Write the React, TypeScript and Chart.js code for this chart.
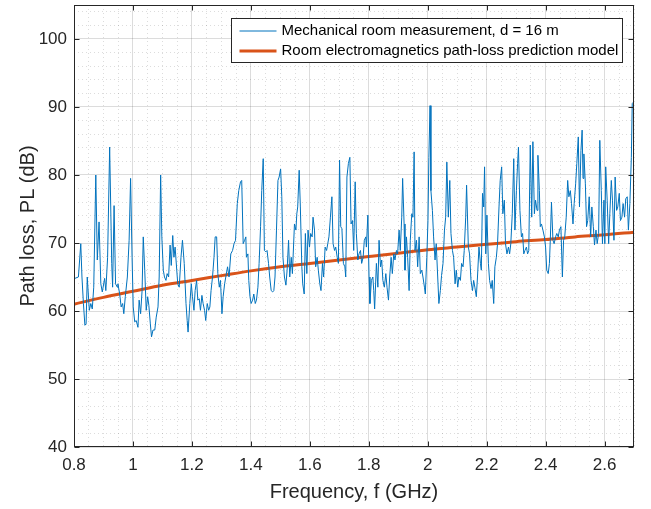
import React, { useEffect, useRef } from 'react';
import { Chart, registerables } from 'chart.js';

Chart.register(...registerables);

const measFreq = [
  0.803, 0.815, 0.823, 0.827, 0.832, 0.837, 0.841, 0.845, 0.852, 0.857, 0.862, 0.867, 0.874, 0.879, 0.885, 0.891, 0.896, 0.904, 0.908, 0.914,
  0.921, 0.928, 0.931, 0.936, 0.941, 0.947, 0.949, 0.955, 0.960, 0.965, 0.969, 0.974, 0.981, 0.987, 0.992, 0.997, 1.001, 1.006, 1.011, 1.017,
  1.021, 1.026, 1.031, 1.035, 1.040, 1.045, 1.050, 1.054, 1.059, 1.063, 1.068, 1.074, 1.079, 1.085, 1.089, 1.094, 1.098, 1.103, 1.107, 1.112,
  1.116, 1.121, 1.126, 1.130, 1.135, 1.139, 1.143, 1.152, 1.157, 1.163, 1.168, 1.174, 1.180, 1.184, 1.187, 1.193, 1.198, 1.202, 1.207, 1.211,
  1.216, 1.220, 1.225, 1.229, 1.234, 1.238, 1.243, 1.247, 1.252, 1.257, 1.261, 1.265, 1.270, 1.275, 1.279, 1.284, 1.288, 1.293, 1.297, 1.302,
  1.306, 1.311, 1.315, 1.321, 1.326, 1.332, 1.338, 1.343, 1.348, 1.354, 1.359, 1.365, 1.369, 1.374, 1.379, 1.383, 1.385, 1.390, 1.393, 1.397,
  1.401, 1.406, 1.410, 1.415, 1.419, 1.424, 1.428, 1.433, 1.437, 1.442, 1.446, 1.451, 1.455, 1.460, 1.464, 1.469, 1.474, 1.478, 1.482, 1.487,
  1.492, 1.496, 1.501, 1.505, 1.509, 1.514, 1.519, 1.523, 1.528, 1.532, 1.537, 1.541, 1.548, 1.553, 1.556, 1.559, 1.564, 1.568, 1.573, 1.576,
  1.581, 1.585, 1.590, 1.594, 1.599, 1.603, 1.608, 1.611, 1.616, 1.620, 1.625, 1.629, 1.634, 1.638, 1.643, 1.647, 1.652, 1.657, 1.661, 1.665,
  1.670, 1.675, 1.679, 1.684, 1.688, 1.693, 1.697, 1.701, 1.705, 1.709, 1.714, 1.719, 1.722, 1.726, 1.731, 1.736, 1.740, 1.745, 1.749, 1.754,
  1.758, 1.763, 1.767, 1.772, 1.776, 1.781, 1.785, 1.790, 1.792, 1.797, 1.801, 1.804, 1.809, 1.814, 1.817, 1.820, 1.826, 1.831, 1.835, 1.840,
  1.844, 1.848, 1.853, 1.858, 1.862, 1.867, 1.871, 1.876, 1.880, 1.885, 1.889, 1.894, 1.898, 1.903, 1.907, 1.912, 1.915, 1.920, 1.923, 1.928,
  1.932, 1.937, 1.941, 1.946, 1.950, 1.954, 1.957, 1.962, 1.966, 1.971, 1.975, 1.980, 1.984, 1.989, 1.992, 1.997, 2.001, 2.004, 2.008, 2.011,
  2.016, 2.020, 2.025, 2.029, 2.034, 2.038, 2.043, 2.047, 2.052, 2.057, 2.061, 2.065, 2.070, 2.075, 2.079, 2.084, 2.088, 2.093, 2.097, 2.102,
  2.106, 2.111, 2.115, 2.120, 2.124, 2.129, 2.132, 2.138, 2.142, 2.147, 2.152, 2.156, 2.160, 2.165, 2.169, 2.174, 2.179, 2.182, 2.186, 2.190,
  2.193, 2.197, 2.201, 2.206, 2.210, 2.215, 2.219, 2.224, 2.228, 2.233, 2.237, 2.242, 2.246, 2.251, 2.255, 2.260, 2.264, 2.269, 2.274, 2.278,
  2.282, 2.287, 2.292, 2.296, 2.301, 2.305, 2.308, 2.313, 2.318, 2.322, 2.326, 2.330, 2.335, 2.339, 2.343, 2.348, 2.353, 2.357, 2.362, 2.366,
  2.371, 2.374, 2.379, 2.382, 2.386, 2.391, 2.396, 2.400, 2.404, 2.409, 2.413, 2.416, 2.420, 2.425, 2.429, 2.434, 2.438, 2.443, 2.447, 2.452,
  2.457, 2.461, 2.465, 2.470, 2.475, 2.479, 2.484, 2.488, 2.493, 2.497, 2.502, 2.506, 2.511, 2.515, 2.520, 2.524, 2.527, 2.530, 2.535, 2.539,
  2.543, 2.548, 2.553, 2.557, 2.562, 2.566, 2.571, 2.575, 2.580, 2.584, 2.589, 2.593, 2.598, 2.601, 2.604, 2.609, 2.614, 2.618, 2.623, 2.627,
  2.632, 2.636, 2.641, 2.645, 2.650, 2.654, 2.659, 2.663, 2.668, 2.672, 2.677, 2.681, 2.686, 2.691, 2.694, 2.700,
];
const measPL = [
  64.8, 65.0, 69.9, 65.0, 61.1, 57.9, 58.1, 65.0, 60.1, 61.1, 60.3, 63.5, 80.0, 67.5, 73.1, 64.0, 62.8, 64.8, 63.0, 67.9,
  84.1, 67.0, 63.5, 75.5, 64.0, 63.5, 64.0, 62.5, 60.6, 61.1, 59.6, 62.1, 65.0, 70.4, 79.5, 67.9, 60.6, 58.4, 58.6, 57.6,
  61.6, 59.6, 63.0, 70.9, 66.0, 60.1, 62.1, 60.8, 58.1, 56.2, 57.2, 57.2, 59.1, 60.6, 65.0, 80.0, 70.9, 66.0, 65.0, 64.5,
  65.5, 65.0, 69.7, 66.7, 71.1, 67.9, 69.4, 64.0, 63.5, 67.9, 70.4, 67.0, 61.1, 58.6, 56.9, 61.1, 64.0, 62.1, 60.1, 63.0,
  64.5, 61.6, 61.8, 60.1, 62.3, 61.1, 60.1, 58.6, 61.1, 60.1, 60.6, 63.0, 65.0, 67.9, 70.9, 70.9, 65.5, 63.5, 64.5, 59.6,
  62.1, 64.0, 65.0, 66.5, 65.0, 68.4, 68.9, 69.9, 70.4, 75.8, 77.7, 79.0, 79.2, 69.9, 70.4, 70.9, 67.9, 68.4, 64.5, 62.1,
  61.1, 61.6, 62.5, 61.1, 61.6, 63.5, 67.0, 72.4, 77.7, 82.4, 68.9, 68.7, 68.9, 67.0, 65.0, 63.0, 62.8, 63.0, 65.0, 71.9,
  79.2, 79.7, 80.9, 76.8, 67.9, 65.0, 63.8, 66.0, 70.4, 65.0, 67.9, 65.5, 72.8, 71.9, 74.3, 75.3, 80.7, 75.3, 66.5, 64.0,
  62.5, 71.4, 65.5, 71.9, 69.4, 71.4, 70.9, 73.8, 71.9, 66.5, 67.9, 66.0, 64.0, 63.0, 67.0, 65.0, 69.4, 68.9, 69.9, 70.9,
  73.8, 76.8, 69.9, 68.9, 69.4, 67.9, 67.0, 82.2, 72.4, 72.1, 67.0, 66.5, 65.0, 79.7, 81.7, 82.6, 72.8, 73.3, 68.9, 79.0,
  71.4, 67.5, 68.4, 68.9, 67.0, 67.9, 70.4, 70.9, 69.4, 74.1, 65.0, 61.1, 64.5, 65.0, 63.0, 60.3, 67.0, 63.5, 70.4, 66.5,
  67.5, 64.5, 63.5, 65.5, 63.5, 61.6, 65.0, 67.9, 65.5, 68.4, 67.5, 68.9, 68.4, 71.9, 68.9, 73.8, 79.5, 72.8, 66.0, 70.9,
  67.9, 63.0, 70.4, 74.3, 73.8, 83.4, 68.9, 70.4, 66.5, 70.9, 65.5, 66.0, 65.0, 63.5, 62.5, 67.9, 73.3, 82.6, 90.2, 77.7,
  74.8, 70.9, 67.5, 69.9, 65.0, 61.1, 63.0, 65.2, 67.0, 71.9, 73.8, 81.9, 73.8, 79.2, 71.4, 68.9, 67.9, 64.0, 66.0, 63.5,
  65.0, 64.5, 67.0, 66.5, 68.9, 73.8, 78.5, 69.4, 68.4, 64.5, 63.0, 64.5, 63.5, 62.1, 65.0, 69.4, 67.0, 66.0, 77.3, 75.3,
  81.2, 68.4, 74.1, 67.0, 64.5, 63.3, 64.5, 61.1, 66.5, 67.9, 69.9, 75.3, 79.2, 81.2, 74.3, 76.3, 69.9, 68.4, 69.4, 68.4,
  69.9, 74.3, 82.4, 71.9, 77.7, 81.7, 84.1, 74.8, 70.9, 71.4, 68.4, 68.9, 69.4, 68.4, 68.9, 84.4, 73.8, 84.9, 74.3, 76.3,
  74.8, 82.9, 77.7, 72.4, 72.8, 71.9, 70.9, 69.4, 66.0, 65.5, 67.0, 70.4, 76.0, 70.4, 69.9, 70.9, 71.4, 70.9, 71.9, 72.4,
  65.0, 70.4, 70.9, 73.8, 79.2, 76.8, 77.7, 75.8, 72.8, 75.8, 78.7, 81.7, 85.6, 75.3, 83.6, 86.6, 79.5, 83.1, 78.7, 72.4,
  73.3, 76.8, 70.9, 75.3, 72.4, 69.7, 71.9, 69.9, 71.4, 85.1, 77.7, 69.9, 76.3, 69.9, 81.2, 76.3, 69.9, 74.3, 79.2, 76.3,
  70.4, 79.7, 74.8, 75.3, 77.3, 73.3, 73.8, 75.8, 73.8, 76.5, 76.8, 71.9, 75.8, 82.6, 90.5, 90.8,
];

// Prediction model
const modelFreq = [0.8, 0.9, 1.0, 1.1, 1.2, 1.3, 1.4, 1.5, 1.6, 1.7, 1.8, 1.9, 2.0, 2.1, 2.2, 2.3, 2.4, 2.5, 2.6, 2.7];
const modelPL = [61.0, 62.0, 62.9, 63.8, 64.5, 65.2, 65.9, 66.5, 67.0, 67.5, 68.0, 68.5, 69.0, 69.4, 69.8, 70.2, 70.5, 70.9, 71.2, 71.6];

const seriesLabels = ['Mechanical room measurement, d = 16 m', 'Room electromagnetics path-loss prediction model'];
const xTitle = 'Frequency, f (GHz)';
const yTitle = 'Path loss, PL (dB)';

const X_MIN = 0.8, X_MAX = 2.7, X_MAJOR = 0.2, X_MINOR = 0.05;
const Y_MIN = 40, Y_MAX = 105, Y_MAJOR = 10, Y_MINOR = 2, Y_LABEL_MAX = 100;

const FONT = "'Liberation Sans', Arial, Helvetica, sans-serif";
const TEXT = '#262626';
const AXIS = '#262626';
const MAJOR_GRID = 'rgba(38,38,38,0.16)';
const MINOR_GRID = 'rgba(38,38,38,0.16)';
const BLUE = '#0072BD';
const ORANGE = '#D95319';

function isMult(v: number, step: number) {
  const r = v / step;
  return Math.abs(r - Math.round(r)) < 1e-6;
}
function gridValues(min: number, max: number, step: number) {
  const out: number[] = [];
  const n = Math.round((max - min) / step);
  for (let i = 0; i <= n; i++) out.push(+(min + i * step).toFixed(6));
  return out;
}

const framePlugin = {
  id: 'matlabFrame',
  afterDraw(chart: any) {
    const { ctx, chartArea: a, scales } = chart;
    ctx.save();
    const L = Math.round(a.left) + 0.5;
    const R = Math.round(a.right) - 0.5;
    const T = Math.round(a.top) + 0.5;
    const B = Math.round(a.bottom) - 0.5;
    ctx.strokeStyle = AXIS;
    ctx.lineWidth = 1;
    ctx.setLineDash([]);
    ctx.strokeRect(L, T, R - L, B - T);
    const tl = 5;
    ctx.beginPath();
    gridValues(X_MIN, X_MAX, X_MINOR).filter((v) => isMult(v, X_MAJOR)).forEach((v) => {
      const px = Math.round(scales.x.getPixelForValue(v)) + 0.5;
      ctx.moveTo(px, B); ctx.lineTo(px, B - tl);
      ctx.moveTo(px, T); ctx.lineTo(px, T + tl);
    });
    gridValues(Y_MIN, Y_LABEL_MAX, Y_MAJOR).forEach((v) => {
      const py = Math.round(scales.y.getPixelForValue(v)) + 0.5;
      ctx.moveTo(L, py); ctx.lineTo(L + tl, py);
      ctx.moveTo(R, py); ctx.lineTo(R - tl, py);
    });
    ctx.stroke();

    // legend
    ctx.font = `15px ${FONT}`;
    const widths = chart.data.datasets.map((d: any) => ctx.measureText(d.label).width);
    const maxW = Math.max(...widths);
    const boxW = Math.round(50 + maxW + 4);
    const boxH = 44;
    const bx = Math.round(a.right - 12 - boxW) + 0.5;
    const by = Math.round(a.top + 13) + 0.5;
    ctx.fillStyle = '#ffffff';
    ctx.fillRect(bx, by, boxW, boxH);
    ctx.strokeStyle = AXIS;
    ctx.lineWidth = 1;
    ctx.strokeRect(bx, by, boxW, boxH);
    chart.data.datasets.forEach((d: any, i: number) => {
      const cy = by + 12.5 + i * 20;
      ctx.beginPath();
      ctx.strokeStyle = d.borderColor;
      ctx.lineWidth = d.borderWidth;
      ctx.moveTo(bx + 8, cy);
      ctx.lineTo(bx + 45, cy);
      ctx.stroke();
      ctx.fillStyle = '#000000';
      ctx.textBaseline = 'middle';
      ctx.textAlign = 'left';
      ctx.fillText(d.label, bx + 50, cy);
    });
    ctx.restore();
  },
};

export default function App() {
  const ref = useRef<HTMLCanvasElement | null>(null);
  useEffect(() => {
    if (!ref.current) return;
    const chart = new Chart(ref.current, {
      type: 'line',
      data: {
        datasets: [
          {
            label: seriesLabels[0],
            data: measFreq.map((f, i) => ({ x: f, y: measPL[i] })),
            borderColor: BLUE,
            borderWidth: 1,
            pointRadius: 0,
            tension: 0,
            fill: false,
          },
          {
            label: seriesLabels[1],
            data: modelFreq.map((f, i) => ({ x: f, y: modelPL[i] })),
            borderColor: ORANGE,
            borderWidth: 3,
            pointRadius: 0,
            cubicInterpolationMode: 'monotone',
            fill: false,
          },
        ],
      },
      options: {
        responsive: false,
        animation: false,
        devicePixelRatio: 1,
        layout: { padding: { left: 0, right: 17, top: 5, bottom: 0 } },
        plugins: { legend: { display: false }, tooltip: { enabled: false } },
        scales: {
          x: {
            type: 'linear',
            min: X_MIN,
            max: X_MAX,
            afterBuildTicks: (s: any) => {
              s.ticks = gridValues(X_MIN, X_MAX, X_MINOR).map((v) => ({ value: v }));
            },
            afterFit: (s: any) => {
              s.height = 62;
              s.paddingLeft = 0;
              s.paddingRight = 0;
            },
            ticks: {
              autoSkip: false,
              maxRotation: 0,
              minRotation: 0,
              padding: 8,
              color: TEXT,
              font: { family: FONT, size: 17 },
              callback: (v: any) => (isMult(+v, X_MAJOR) ? String(Math.round(+v * 10) / 10) : ''),
            },
            grid: {
              drawTicks: false,
              lineWidth: 1,
              color: (c: any) => (c.tick && !isMult(c.tick.value, X_MAJOR) ? MINOR_GRID : MAJOR_GRID),
            },
            border: {
              display: false,
              dash: (c: any) => (c.tick && !isMult(c.tick.value, X_MAJOR) ? [1, 3] : []),
            },
            title: {
              display: true,
              text: xTitle,
              color: TEXT,
              font: { family: FONT, size: 20 },
              padding: { top: 0, bottom: 5 },
            },
          },
          y: {
            type: 'linear',
            min: Y_MIN,
            max: Y_MAX,
            afterBuildTicks: (s: any) => {
              s.ticks = gridValues(Y_MIN, Y_MAX - 1, Y_MINOR).map((v) => ({ value: v }));
            },
            afterFit: (s: any) => {
              s.width = 74;
              s.paddingTop = 0;
              s.paddingBottom = 0;
            },
            ticks: {
              autoSkip: false,
              padding: 7,
              color: TEXT,
              font: { family: FONT, size: 17 },
              callback: (v: any) => (isMult(+v, Y_MAJOR) && +v <= Y_LABEL_MAX ? String(+v) : ''),
            },
            grid: {
              drawTicks: false,
              lineWidth: 1,
              color: (c: any) => (c.tick && !isMult(c.tick.value, Y_MAJOR) ? MINOR_GRID : MAJOR_GRID),
            },
            border: {
              display: false,
              dash: (c: any) => (c.tick && !isMult(c.tick.value, Y_MAJOR) ? [1, 3] : []),
            },
            title: {
              display: true,
              text: yTitle,
              color: TEXT,
              font: { family: FONT, size: 20 },
              padding: { top: 16, bottom: 0 },
            },
          },
        },
      },
      plugins: [framePlugin],
    } as any);
    return () => chart.destroy();
  }, []);
  return (
    <div style={{ position: 'absolute', left: 0, top: 0, width: 651, height: 509, background: '#ffffff' }}>
      <canvas ref={ref} width={651} height={509} style={{ display: 'block' }} />
    </div>
  );
}
